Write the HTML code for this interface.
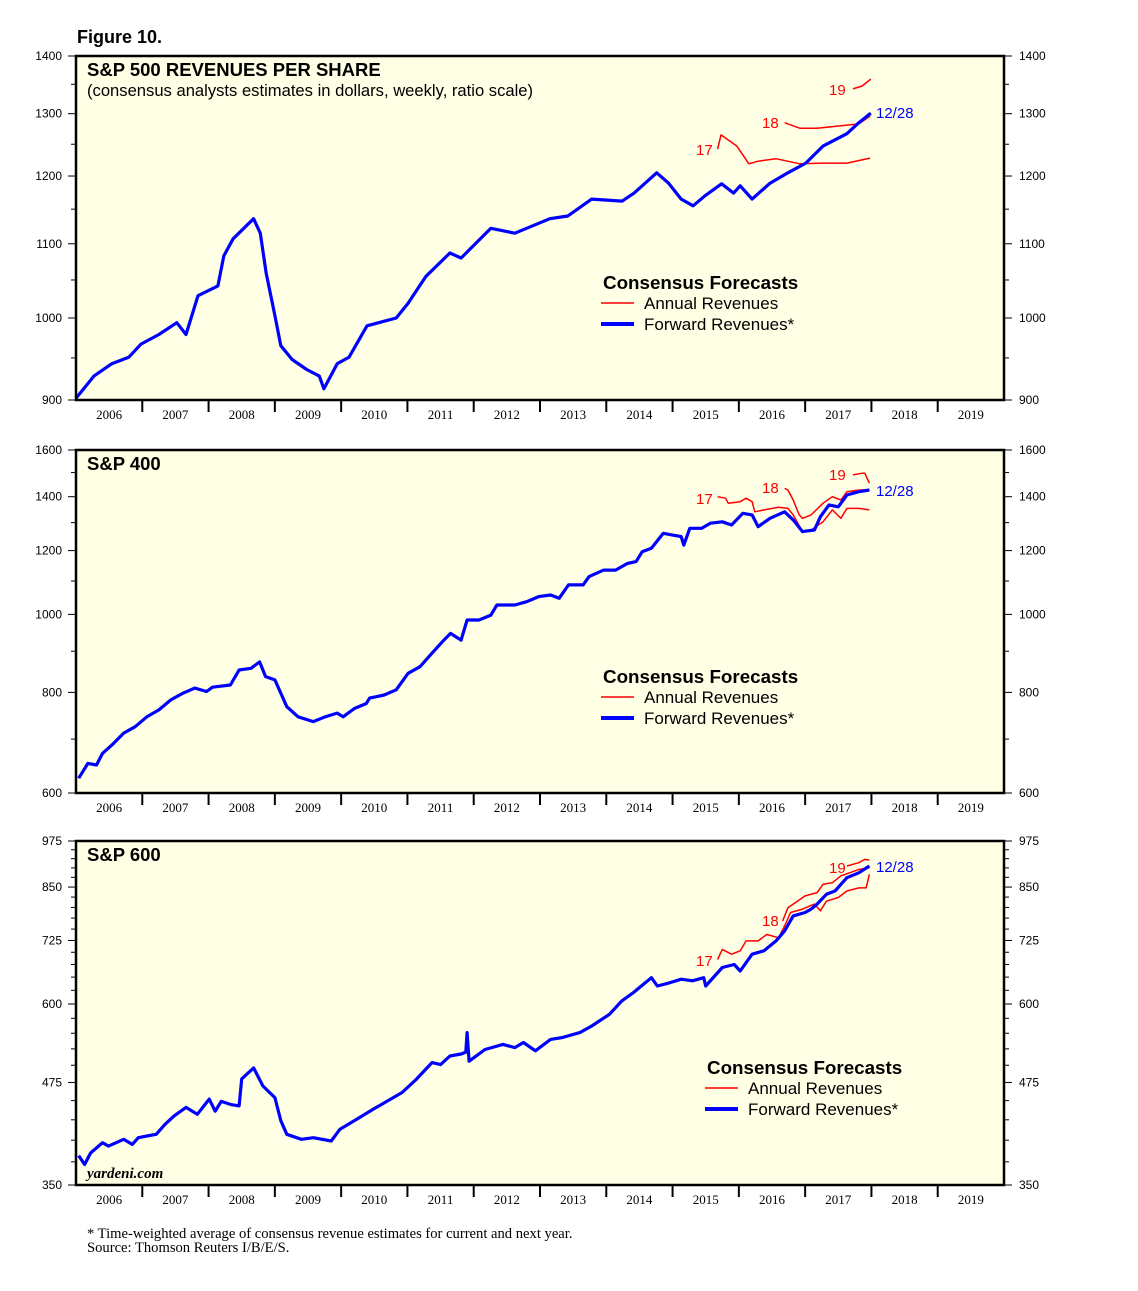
<!DOCTYPE html>
<html><head><meta charset="utf-8"><title>Figure 10</title>
<style>
body{margin:0;background:#fff;width:1138px;height:1291px;overflow:hidden;}
svg{display:block;font-family:"Liberation Sans",Arial,sans-serif;}
</style></head>
<body>
<svg id="chart" width="1138" height="1291" viewBox="0 0 1138 1291" xmlns="http://www.w3.org/2000/svg">
<text x="77" y="43" font-size="18" font-weight="bold">Figure 10.</text>
<text x="87" y="1238" font-size="14.6" font-family="Liberation Serif,serif">* Time-weighted average of consensus revenue estimates for current and next year.</text>
<text x="87" y="1252" font-size="14.6" font-family="Liberation Serif,serif">Source: Thomson Reuters I/B/E/S.</text>
</svg>
<script>
// ---------- DATA ----------
const years = ["2006","2007","2008","2009","2010","2011","2012","2013","2014","2015","2016","2017","2018","2019"];

// Panel 1: S&P 500
const p1Ticks = [900,1000,1100,1200,1300,1400];
const p1Minor = [950,1050,1150,1250,1350];
const p1FwdT = [2006.0,2006.27,2006.54,2006.80,2006.98,2007.25,2007.52,2007.66,2007.84,2008.14,2008.23,2008.37,2008.68,2008.78,2008.87,2009.0,2009.09,2009.26,2009.48,2009.67,2009.74,2009.94,2010.12,2010.39,2010.83,2011.01,2011.28,2011.64,2011.81,2012.26,2012.62,2013.15,2013.42,2013.78,2014.24,2014.42,2014.76,2014.94,2015.13,2015.31,2015.49,2015.74,2015.92,2016.02,2016.20,2016.47,2016.74,2017.01,2017.27,2017.63,2017.81,2017.99];
const p1FwdV = [902,928,943,951,967,979,994,979,1029,1042,1083,1107,1136,1115,1059,1003,965,948,936,928,913,943,951,990,1000,1019,1055,1087,1080,1122,1115,1136,1140,1165,1162,1174,1205,1189,1165,1155,1170,1188,1174,1185,1165,1189,1205,1220,1247,1267,1285,1301];
const p1A17T = [2015.68,2015.73,2015.97,2016.15,2016.29,2016.56,2016.92,2017.27,2017.63,2017.98];
const p1A17V = [1242,1265,1247,1219,1223,1227,1219,1220,1220,1228];
const p1A18T = [2016.69,2016.92,2017.18,2017.54,2017.81,2017.98];
const p1A18V = [1285,1276,1276,1280,1283,1296];
const p1A19T = [2017.72,2017.86,2017.99];
const p1A19V = [1342,1347,1359];

// Panel 2: S&P 400
const p2Ticks = [600,800,1000,1200,1400,1600];
const p2Minor = [700,900,1100,1300,1500];
const p2FwdT = [2006.04,2006.18,2006.31,2006.40,2006.54,2006.72,2006.89,2007.07,2007.25,2007.43,2007.61,2007.79,2007.97,2008.06,2008.33,2008.46,2008.64,2008.77,2008.86,2009.00,2009.18,2009.35,2009.58,2009.76,2009.94,2010.03,2010.20,2010.38,2010.43,2010.65,2010.83,2011.01,2011.19,2011.37,2011.55,2011.65,2011.81,2011.90,2012.08,2012.26,2012.35,2012.62,2012.80,2012.98,2013.16,2013.29,2013.43,2013.65,2013.74,2013.96,2014.14,2014.32,2014.45,2014.54,2014.68,2014.86,2014.99,2015.13,2015.17,2015.26,2015.44,2015.57,2015.75,2015.89,2016.06,2016.20,2016.29,2016.47,2016.69,2016.82,2016.96,2017.14,2017.23,2017.36,2017.50,2017.63,2017.81,2017.97];
const p2FwdV = [626,653,650,672,688,712,725,746,761,783,798,810,802,812,817,853,857,873,837,829,768,746,736,746,754,746,764,775,787,794,806,845,861,895,929,947,929,984,984,998,1027,1027,1037,1052,1057,1047,1088,1088,1114,1135,1135,1157,1163,1196,1208,1261,1255,1249,1219,1279,1279,1298,1303,1291,1335,1329,1285,1316,1341,1310,1267,1273,1322,1367,1360,1407,1420,1427];
const p2A17T = [2015.68,2015.80,2015.84,2016.02,2016.11,2016.20,2016.24,2016.38,2016.60,2016.74,2016.82,2016.96,2017.09,2017.27,2017.41,2017.54,2017.63,2017.81,2017.97];
const p2A17V = [1400,1394,1374,1380,1394,1380,1341,1348,1358,1354,1329,1267,1273,1303,1348,1316,1354,1354,1348];
const p2A18T = [2016.69,2016.74,2016.82,2016.91,2016.96,2017.09,2017.27,2017.41,2017.54,2017.63,2017.81,2017.97];
const p2A18V = [1434,1427,1387,1329,1316,1329,1374,1400,1387,1420,1427,1427];
const p2A19T = [2017.72,2017.85,2017.90,2017.97];
const p2A19V = [1490,1497,1497,1455];

// Panel 3: S&P 600
const p3Ticks = [350,475,600,725,850,975];
const p3Minor = [375,400,425,450,500,525,550,575,625,650,675,700,750,775,800,825,875,900,925,950];
const p3FwdT = [2006.04,2006.13,2006.22,2006.40,2006.49,2006.72,2006.85,2006.94,2007.07,2007.21,2007.34,2007.48,2007.66,2007.83,2008.01,2008.10,2008.19,2008.33,2008.46,2008.50,2008.68,2008.82,2009.00,2009.09,2009.18,2009.40,2009.58,2009.85,2009.98,2010.20,2010.47,2010.65,2010.92,2011.14,2011.37,2011.50,2011.64,2011.81,2011.88,2011.90,2011.93,2012.17,2012.44,2012.62,2012.75,2012.93,2013.16,2013.34,2013.60,2013.78,2014.05,2014.23,2014.41,2014.68,2014.77,2014.95,2015.13,2015.30,2015.47,2015.50,2015.75,2015.93,2016.02,2016.20,2016.38,2016.56,2016.69,2016.82,2017.00,2017.09,2017.18,2017.32,2017.45,2017.63,2017.81,2017.97];
const p3FwdV = [382,372,385,397,393,401,395,403,405,407,419,430,441,432,452,436,449,445,443,480,496,470,454,424,407,401,403,399,413,424,438,447,461,480,504,501,514,517,520,551,506,524,532,527,535,522,540,543,551,562,582,605,621,649,633,639,646,643,649,633,669,675,662,696,703,724,746,780,788,796,808,832,840,874,887,905];
const p3A17T = [2015.68,2015.75,2015.89,2016.02,2016.11,2016.29,2016.42,2016.60,2016.69,2016.78,2016.96,2017.14,2017.23,2017.32,2017.50,2017.63,2017.81,2017.92,2017.97];
const p3A17V = [685,706,696,703,724,724,738,731,757,788,796,808,792,815,824,840,848,848,883];
const p3A18T = [2016.66,2016.74,2016.82,2017.00,2017.18,2017.27,2017.41,2017.54,2017.67,2017.81,2017.97];
const p3A18V = [768,799,808,828,836,857,861,879,887,896,900];
const p3A19T = [2017.63,2017.81,2017.90,2017.97];
const p3A19V = [905,914,923,921];

// ---------- DRAW ----------
const NS = "http://www.w3.org/2000/svg";
const svg = document.getElementById("chart");
const X0 = 76, X1 = 1004;
function xScale(t){ return X0 + (t - 2006) * (X1 - X0) / 14; }
function mk(tag, attrs, parent){
  const e = document.createElementNS(NS, tag);
  for (const k in attrs) e.setAttribute(k, attrs[k]);
  (parent || svg).appendChild(e);
  return e;
}

function panel(id, top, bottom, vmin, vmax, ticks, minor, series, labels, title, sub, legendX){
  const g = mk("g", {});
  
  
  const ys = v => bottom - Math.log(v / vmin) / Math.log(vmax / vmin) * (bottom - top);
  const bg = mk("rect", {x:X0, y:top, width:X1-X0, height:bottom-top, fill:"#ffffe6"}, g);
  
  
  ticks.forEach(v => {
    const y = ys(v);
    mk("line", {x1:X0-8, x2:X0, y1:y, y2:y, stroke:"#000", "stroke-width":1}, g);
    mk("line", {x1:X1, x2:X1+8, y1:y, y2:y, stroke:"#000", "stroke-width":1}, g);
    const tl = mk("text", {x:X0-14, y:y+4, "font-size":12, "text-anchor":"end"}, g);
    tl.textContent = v;
    
    
    const tr = mk("text", {x:X1+15, y:y+4, "font-size":12}, g);
    tr.textContent = v;
    
    
  });
  minor.forEach(v => {
    const y = ys(v);
    mk("line", {x1:X0-5, x2:X0, y1:y, y2:y, stroke:"#000", "stroke-width":1}, g);
    mk("line", {x1:X1, x2:X1+5, y1:y, y2:y, stroke:"#000", "stroke-width":1}, g);
  });
  years.forEach((yr, i) => {
    const xa = xScale(2006 + i);
    if (i > 0) mk("line", {x1:xa, x2:xa, y1:bottom, y2:bottom+12, stroke:"#000", "stroke-width":2}, g);
    const t = mk("text", {x:xScale(2006.5 + i), y:bottom+19, "font-size":13, "text-anchor":"middle", "font-family":"Liberation Serif,serif"}, g);
    t.textContent = yr;
    
    
  });
  series.forEach(s => {
    const d = s.t.map((t, i) => (i ? "L" : "M") + xScale(t).toFixed(1) + " " + ys(s.v[i]).toFixed(1)).join(" ");
    const p = mk("path", {d:d, fill:"none", stroke:s.color, "stroke-width":s.w, "stroke-linejoin":"round"}, g);
    
    
  });
  labels.forEach(l => {
    const t = mk("text", {x:l.x, y:l.y, "font-size":15, fill:l.c}, g);
    t.textContent = l.s;
    
    
  });
  mk("rect", {x:X0, y:top, width:X1-X0, height:bottom-top, fill:"none", stroke:"#000", "stroke-width":2.5}, g);
  const tt = mk("text", {x:87, y:top+20, "font-size":18.5, "font-weight":"bold"}, g);
  tt.textContent = title;
  
  
  if (sub){
    const st = mk("text", {x:87, y:top+40, "font-size":16.6}, g);
    st.textContent = sub;
    
    
  }
  const lg = mk("g", {}, g);
  
  
  const ly = top + 233;
  const lt = mk("text", {x:legendX+2, y:ly, "font-size":18.8, "font-weight":"bold"}, lg);
  lt.textContent = "Consensus Forecasts";
  mk("line", {x1:legendX, x2:legendX+33, y1:ly+14, y2:ly+14, stroke:"#f00", "stroke-width":1.5}, lg);
  const a = mk("text", {x:legendX+43, y:ly+20, "font-size":17}, lg);
  a.textContent = "Annual Revenues";
  
  
  mk("line", {x1:legendX, x2:legendX+33, y1:ly+35, y2:ly+35, stroke:"#00f", "stroke-width":4}, lg);
  const f = mk("text", {x:legendX+43, y:ly+41, "font-size":17}, lg);
  f.textContent = "Forward Revenues*";
  
  
  return ys;
}

const red = "#f00", blue = "#00f";
panel("sp500", 56, 400, 900, 1400, p1Ticks, p1Minor, [
  {t:p1A17T, v:p1A17V, color:red, w:1.5, name:"annual-2017-line"},
  {t:p1A18T, v:p1A18V, color:red, w:1.5, name:"annual-2018-line"},
  {t:p1A19T, v:p1A19V, color:red, w:1.5, name:"annual-2019-line"},
  {t:p1FwdT, v:p1FwdV, color:blue, w:3.2, name:"forward-revenues-line"}
], [
  {x:696, y:155, s:"17", c:red, n:"label-17"},
  {x:762, y:128, s:"18", c:red, n:"label-18"},
  {x:829, y:95, s:"19", c:red, n:"label-19"},
  {x:876, y:118, s:"12/28", c:blue, n:"label-12-28"}
], "S&P 500 REVENUES PER SHARE", "(consensus analysts estimates in dollars, weekly, ratio scale)", 601);

panel("sp400", 450, 793, 600, 1600, p2Ticks, p2Minor, [
  {t:p2A17T, v:p2A17V, color:red, w:1.5, name:"annual-2017-line"},
  {t:p2A18T, v:p2A18V, color:red, w:1.5, name:"annual-2018-line"},
  {t:p2A19T, v:p2A19V, color:red, w:1.5, name:"annual-2019-line"},
  {t:p2FwdT, v:p2FwdV, color:blue, w:3.2, name:"forward-revenues-line"}
], [
  {x:696, y:504, s:"17", c:red, n:"label-17"},
  {x:762, y:493, s:"18", c:red, n:"label-18"},
  {x:829, y:480, s:"19", c:red, n:"label-19"},
  {x:876, y:496, s:"12/28", c:blue, n:"label-12-28"}
], "S&P 400", null, 601);

panel("sp600", 841, 1185, 350, 975, p3Ticks, p3Minor, [
  {t:p3A17T, v:p3A17V, color:red, w:1.5, name:"annual-2017-line"},
  {t:p3A18T, v:p3A18V, color:red, w:1.5, name:"annual-2018-line"},
  {t:p3A19T, v:p3A19V, color:red, w:1.5, name:"annual-2019-line"},
  {t:p3FwdT, v:p3FwdV, color:blue, w:3.2, name:"forward-revenues-line"}
], [
  {x:696, y:966, s:"17", c:red, n:"label-17"},
  {x:762, y:926, s:"18", c:red, n:"label-18"},
  {x:829, y:873, s:"19", c:red, n:"label-19"},
  {x:876, y:872, s:"12/28", c:blue, n:"label-12-28"}
], "S&P 600", null, 705);

const yd = mk("text", {x:87, y:1178, "font-size":15, "font-style":"italic", "font-weight":"bold", "font-family":"Liberation Serif,serif"});
yd.textContent = "yardeni.com";


</script>
</body></html>
